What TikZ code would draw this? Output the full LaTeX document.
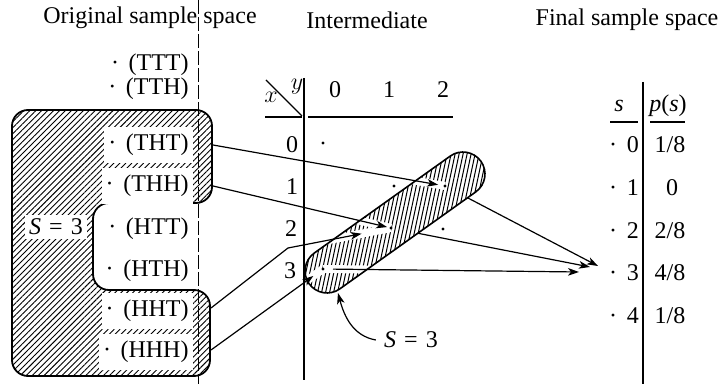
\documentclass[tikz,border=0pt,12pt]{standalone}
\usepackage{fontspec}
\setmainfont{Liberation Serif}
\usepackage{amsmath}
\usepackage{tikz}
\usetikzlibrary{positioning}
\usetikzlibrary{calc}
\usetikzlibrary{patterns.meta}
\usetikzlibrary{arrows.meta}

\newcommand{\outc}[1]{\textperiodcentered\hspace{0.4em}#1}
\newcommand{\capsulepath}{[rotate around={35.5:(395,222.5)}, rounded corners=11pt]
    (289.5,200.5) rectangle (500.5,244.5)}

\begin{document}
\begin{tikzpicture}[x=0.5pt, y=-0.5pt,
    lbl/.style={anchor=east, inner xsep=2pt, inner ysep=3.5pt},
    boxlbl/.style={lbl, fill=white},
    hatch/.style={pattern={Lines[angle=45, distance=2.1pt, line width=0.45pt]}},
    arr/.style={-{Stealth[length=5.5pt, width=3.8pt, inset=1.5pt]}, line width=0.6pt},
    halo/.style={white, line width=4pt},
    rule/.style={line width=0.6pt}]
    \useasboundingbox (0,0) rectangle (723,384);

    % original sample space
    \draw[line width=0.9pt, hatch, rounded corners=8pt]
        (12,110) -- (212,110) -- (212,203) -- (93,203) -- (93,290)
        -- (210,290) -- (210,376) -- (12,376) -- cycle;

    \node[lbl] (ttt) at (193,65) {\outc{(TTT)}};
    \node[lbl] (tth) at (193,89) {\outc{(TTH)}};
    \node[boxlbl] (tht) at (193,145) {\outc{(THT)}};
    \node[boxlbl] (thh) at (193,186) {\outc{(THH)}};
    \node[lbl] (htt) at (193,229) {\outc{(HTT)}};
    \node[lbl] (hth) at (193,271) {\outc{(HTH)}};
    \node[boxlbl] (hht) at (193,311) {\outc{(HHT)}};
    \node[boxlbl] (hhh) at (193,352) {\outc{(HHH)}};
    \node[fill=white, inner sep=2pt] (sleft) at (56,227) {\textit{S}\,\,=\,\,3};

    \draw[dashed, dash pattern=on 7pt off 1.5pt, line width=0.4pt] (198,0) -- (198,384);

    \node (t1) at (150,18) {Original sample space};
    \node (t2) at (367,20) {Intermediate};
    \node (t3) at (627,20) {Final sample space};

    % intermediate table
    \draw[rule] (304,78) -- (304,380);
    \draw[rule] (265,117) -- (302,117);
    \draw[rule] (308,117) -- (453,117);
    \draw[rule] (266,80) -- (302,116);
    \node (hx) at (271,97) {$x$};
    \node (hy) at (297,87) {$y$};
    \node (c0) at (335,90) {0};
    \node (c1) at (389,90) {1};
    \node (c2) at (443,90) {2};
    \node (r0) at (292,145) {0};
    \node (r1) at (292,187) {1};
    \node (r2) at (291,229) {2};
    \node (r3) at (290,271) {3};

    \coordinate (p00) at (323,143);
    \coordinate (p11) at (394,186);
    \coordinate (p12) at (445,186);
    \coordinate (p21) at (391,228);
    \coordinate (p22) at (443,229);
    \coordinate (p30) at (323,269);

    % final sample space
    \draw[rule] (643,82) -- (643,384);
    \draw[rule] (610,122) -- (638,122);
    \draw[rule] (650,122) -- (685,122);
    \node (hs) at (619,106) {\textit{s}};
    \node (hp) at (668,106) {\textit{p}(\textit{s})};
    \node (f0) at (624,145) {\outc{0}};
    \node (f1) at (624,188) {\outc{1}};
    \node (f2) at (624,231) {\outc{2}};
    \node (f3) at (624,273) {\outc{3}};
    \node (f4) at (624,316) {\outc{4}};
    \node (v0) at (670,145) {1/8};
    \node (v1) at (672,188) {0};
    \node (v2) at (670,231) {2/8};
    \node (v3) at (670,273) {4/8};
    \node (v4) at (670,316) {1/8};

    \coordinate (e1) at (213,145);
    \coordinate (e2) at (213,186);
    \coordinate (e3) at (211,308);
    \coordinate (e4) at (211,350);
    \coordinate (bend) at (288,248);
    \coordinate (g1) at (598,266);
    \coordinate (g2) at (590,267);
    \coordinate (g3) at (579,272);
    \coordinate (cb) at (338,293);

    % lines hidden under the S = 3 region
    \draw[arr] (p12) -- (g1);
    \draw[arr] (p21) -- (g2);

    \fill[white] \capsulepath;
    \begin{scope}
        \clip \capsulepath;
        \foreach \i in {0,...,60}
            \draw[line width=0.5pt] (260+4*\i,300) -- ++(33,-155);
        \draw[halo] (e1) -- (p12);
        \draw[halo] (e2) -- (p21);
        \draw[halo] (e3) -- (bend) -- (p21);
        \draw[halo] (e4) -- (p30);
        \draw[halo] (p30) -- (g3);
    \end{scope}
    \draw[line width=0.8pt] \capsulepath;

    \draw[arr, shorten >=3.5pt] (e1) -- (p12);
    \draw[arr, shorten >=2pt] (e2) -- (p21);
    \draw[arr, shorten >=15pt] (e3) -- (bend) -- (p21);
    \draw[arr, shorten >=6pt] (e4) -- (p30);
    \draw[arr, shorten <=5pt] (p30) -- (g3);

    \foreach \p in {p00,p11,p12,p21,p22,p30}
        \fill (\p) circle (0.8pt);

    \node (sright) at (411,340) {\textit{S}\,\,=\,\,3};
    \draw[arr] (sright.west) to[out=170, in=-75] (cb);
\end{tikzpicture}
\end{document}
